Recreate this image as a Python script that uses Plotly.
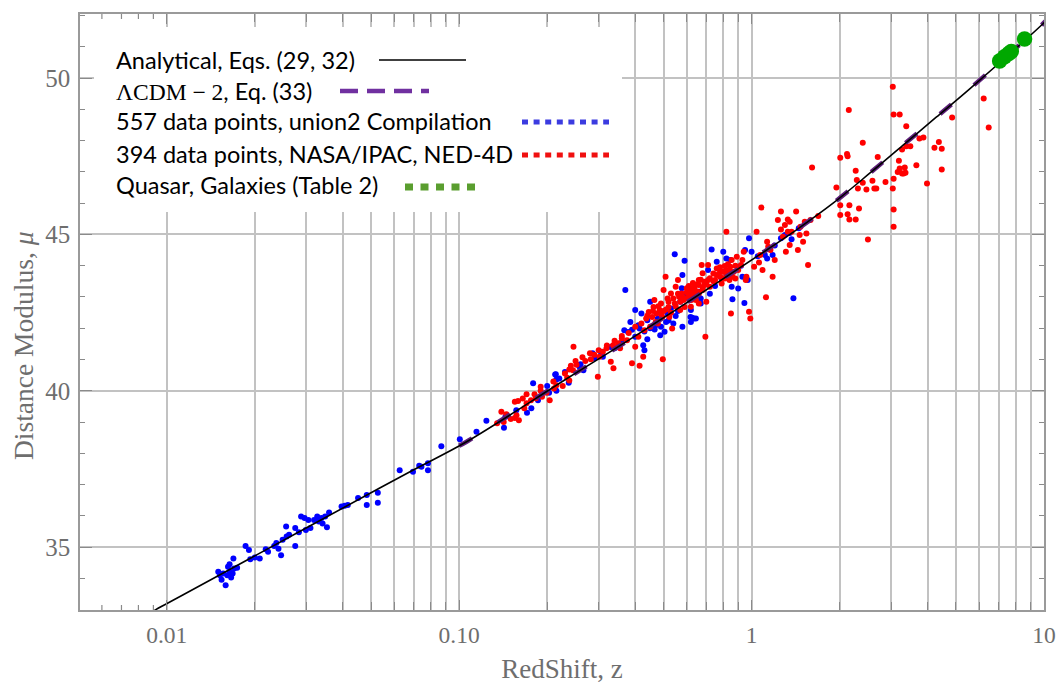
import math
import plotly.graph_objects as go

# ---------------- data ----------------
curve_z = [0.0080, 0.0092, 0.0111, 0.020, 0.0535, 0.0694, 0.106, 0.239, 0.38,
           1.125, 1.42, 1.90, 2.53, 3.29, 4.28, 5.56, 9.9, 10.2]
curve_mu = [32.69, 33.01, 33.42, 34.72, 36.89, 37.46, 38.37, 40.45, 41.62,
            44.50, 45.14, 46.00, 46.95, 47.85, 48.75, 49.65, 51.73, 51.85]

lcdm_z = [0.100, 0.106, 0.239, 0.38, 1.125, 1.42, 1.90, 2.53, 3.29, 4.28, 5.56, 9.9, 10.2]
lcdm_mu = [38.24, 38.37, 40.45, 41.62, 44.50, 45.14, 46.00, 46.95, 47.85, 48.75, 49.65, 51.73, 51.85]

blue_z = [0.0150, 0.0152, 0.0154, 0.0159, 0.0162, 0.0164, 0.0166, 0.0168, 0.0170, 0.0169,
          0.0174, 0.0161, 0.0156, 0.0164, 0.0186, 0.0191, 0.0193, 0.0200, 0.0208, 0.0218,
          0.0222, 0.0233, 0.0237, 0.0241, 0.0246, 0.0249, 0.0256, 0.0257, 0.0262, 0.0275,
          0.0275, 0.0283, 0.0288, 0.0296, 0.0299, 0.0305, 0.0310, 0.0319, 0.0327, 0.0331,
          0.0338, 0.0341, 0.0348, 0.0353, 0.0359, 0.0396, 0.0406, 0.0416, 0.0451, 0.0483,
          0.0483, 0.0527, 0.0527, 0.0626, 0.0695, 0.0743, 0.0782, 0.0782, 0.0869, 0.1005,
          0.1146, 0.0730, 0.1239, 0.1423, 0.1440, 0.1568, 0.1706, 0.1765, 0.1790, 0.1860,
          0.2030, 0.2130, 0.2150, 0.2370, 0.2150, 0.214, 0.220, 0.258, 0.266, 0.286,
          0.305, 0.310, 0.340, 0.367, 0.370, 0.378, 0.385, 0.400, 0.400, 0.414,
          0.426, 0.430, 0.420, 0.440, 0.450, 0.466, 0.478, 0.487, 0.504, 0.510,
          0.516, 0.530, 0.546, 0.550, 0.570, 0.577, 0.580, 0.590, 0.580, 0.600,
          0.620, 0.626, 0.645, 0.650, 0.670, 0.660, 0.618, 0.620, 0.635, 0.650,
          0.670, 0.710, 0.730, 0.760, 0.790, 0.800, 0.820, 0.845, 0.855, 0.860,
          0.900, 0.930, 0.945, 0.950, 0.970, 0.980, 1.000, 1.110, 1.130, 1.180,
          1.260, 1.300, 1.370, 1.390,
          0.39, 0.41, 0.43, 0.45, 0.47, 0.49, 0.52, 0.54, 0.56, 0.44,
          0.36, 0.33, 0.29, 0.26, 0.23, 0.20, 0.72, 0.75, 0.85, 0.92,
          1.05, 1.20, 1.35, 1.45]
blue_mu = [34.21, 34.10, 33.96, 33.78, 34.37, 34.21, 34.03, 34.16, 34.32, 34.64,
           34.34, 34.10, 34.16, 34.45, 35.04, 34.91, 34.61, 34.67, 34.64, 34.93,
           34.85, 35.04, 35.13, 34.95, 34.74, 35.24, 35.66, 35.34, 35.40, 35.61,
           35.04, 35.48, 35.98, 35.93, 35.55, 35.87, 35.61, 35.87, 35.98, 35.82,
           35.93, 35.76, 35.98, 35.64, 36.11, 36.30, 36.32, 36.35, 36.57, 36.67,
           36.35, 36.74, 36.42, 37.46, 37.41, 37.57, 37.68, 37.46, 38.23, 38.45,
           38.69, 37.60, 39.04, 38.82, 39.17, 39.38, 39.30, 39.44, 40.24, 39.70,
           39.94, 40.52, 40.36, 40.26, 40.00, 40.53, 40.39, 40.77, 40.66, 41.20,
           41.25, 41.09, 41.36, 41.94, 43.22, 41.88, 42.20, 42.58, 41.73, 41.99,
           41.46, 41.30, 42.47, 42.26, 42.85, 41.96, 42.31, 41.78, 41.89, 42.20,
           42.47, 42.63, 44.37, 42.39, 42.85, 43.28, 42.05, 44.16, 43.70, 43.06,
           42.58, 42.34, 42.31, 43.00, 42.95, 43.17, 42.36, 42.20, 42.31, 42.95,
           42.79, 43.86, 44.52, 44.13, 43.59, 44.45, 44.23, 44.18, 43.33, 42.93,
           43.27, 43.65, 42.81, 44.50, 43.54, 44.88, 44.45, 44.34, 44.23, 44.34,
           44.88, 44.98, 44.85, 42.96,
           41.95, 42.10, 41.90, 42.00, 42.10, 42.05, 42.25, 42.15, 42.55, 41.65,
           41.55, 41.40, 41.05, 40.85, 40.60, 40.15, 43.10, 43.35, 43.75, 44.00,
           44.30, 44.65, 45.05, 45.20]

red_z = [0.1394, 0.1348, 0.142, 0.150, 0.157, 0.160, 0.159, 0.167, 0.170, 0.176,
         0.181, 0.183, 0.190, 0.192, 0.199, 0.204, 0.211, 0.215, 0.226, 0.234,
         0.238, 0.238, 0.155, 0.155,
         0.246, 0.264, 0.241, 0.245, 0.252, 0.282, 0.290, 0.298, 0.302, 0.310,
         0.319, 0.330, 0.336, 0.350, 0.355, 0.337, 0.360, 0.375, 0.390, 0.414,
         0.400, 0.410, 0.426, 0.430, 0.436, 0.445, 0.450, 0.457, 0.462, 0.465,
         0.472, 0.478, 0.485, 0.490, 0.495, 0.497, 0.500, 0.508, 0.516, 0.520,
         0.523, 0.535, 0.530, 0.546, 0.550, 0.560, 0.565, 0.570, 0.577, 0.585,
         0.590, 0.600, 0.607, 0.614, 0.622, 0.630, 0.637, 0.645, 0.654, 0.660,
         0.675, 0.680, 0.690, 0.695, 0.700,
         0.618, 0.630, 0.620, 0.635, 0.660, 0.660, 0.680, 0.690, 0.710, 0.710,
         0.720, 0.740, 0.750, 0.760, 0.780, 0.790, 0.800, 0.810, 0.810, 0.820,
         0.820, 0.830, 0.840, 0.845, 0.850, 0.855, 0.870, 0.880, 0.890, 0.900,
         0.920, 0.930, 0.940, 0.955, 0.960, 0.980, 0.990, 1.020, 1.040, 1.060,
         1.070, 1.090, 1.120, 1.130, 1.140, 1.160, 1.180, 1.080, 1.200, 1.230,
         1.260, 1.260, 1.280, 1.300, 1.310, 1.330, 1.330, 1.350, 1.350, 1.370,
         1.420, 1.440, 1.460, 1.470, 1.500, 1.520, 1.540, 1.560, 1.590,
         3.04, 3.06, 3.21, 3.38, 2.15, 2.40, 2.01, 2.13, 2.12, 2.70,
         2.27, 2.29, 2.40, 2.31, 2.47, 2.59, 2.63, 2.67, 2.87, 3.06,
         3.04, 3.19, 3.16, 3.21, 3.27, 3.34, 3.31, 3.36, 3.27, 3.38,
         3.49, 3.75, 3.87, 3.66, 3.98, 4.22, 4.37, 4.47, 4.47, 4.85,
         1.61, 1.95, 2.01, 2.16, 2.33, 2.01, 2.13, 2.16, 2.27, 3.06,
         3.06, 2.50, 1.69, 6.22, 6.47,
         0.44, 0.46, 0.48, 0.50, 0.52, 0.54, 0.56, 0.58, 0.60, 0.62,
         0.64, 0.66, 0.68, 0.47, 0.49, 0.51, 0.53, 0.55, 0.57, 0.59,
         0.61, 0.63, 0.65, 0.67, 0.70, 0.72, 0.74, 0.76, 0.78, 0.80,
         0.82, 0.84, 0.86, 0.78, 0.83, 0.88, 0.40, 0.42, 0.38, 0.36,
         0.34, 0.32, 0.30, 0.28, 0.27, 0.25, 0.23, 0.21, 0.19, 0.17,
         0.165, 0.145]
red_mu = [39.33, 38.96, 39.00, 39.10, 39.22, 39.06, 39.67, 39.44, 39.89, 39.70,
          39.89, 39.76, 40.13, 39.81, 39.94, 39.70, 40.07, 40.18, 40.15, 40.42,
          40.68, 40.33, 39.65, 39.13,
          41.41, 41.07, 40.80, 40.66, 40.83, 41.01, 41.15, 40.45, 41.09, 41.25,
          41.36, 40.93, 41.46, 41.52, 41.36, 40.72, 41.68, 41.62, 40.88, 40.80,
          41.41, 41.73, 41.09, 41.94, 42.31, 42.52, 42.05, 42.36, 42.68, 42.90,
          42.47, 42.15, 42.58, 42.79, 42.36, 41.01, 43.22, 43.65, 42.95, 42.68,
          42.36, 41.99, 43.11, 42.79, 43.33, 43.54, 43.01, 42.58, 43.11, 42.90,
          42.68, 43.28, 43.01, 43.22, 42.90, 43.11, 43.28, 42.90, 43.17, 43.38,
          44.02, 43.76, 43.49, 41.73, 42.85,
          43.22, 43.01, 42.69, 43.33, 43.54, 42.79, 43.22, 43.38, 43.54, 44.02,
          43.33, 43.75, 43.54, 43.91, 43.65, 43.43, 43.81, 43.99, 43.59, 45.09,
          43.86, 43.70, 43.54, 43.97, 42.47, 44.18, 43.81, 43.59, 44.29, 43.86,
          44.02, 44.18, 44.45, 43.54, 43.65, 42.53, 42.31, 43.97, 45.09, 44.10,
          44.34, 43.86, 42.99, 44.77, 44.61, 44.50, 43.65, 45.86, 44.18, 45.46,
          45.16, 45.73, 44.93, 45.30, 44.45, 45.48, 45.09, 44.66, 45.41, 45.09,
          45.73, 44.50, 44.98, 45.25, 44.77, 45.41, 45.03, 44.02, 45.46,
          49.72, 48.84, 48.84, 48.46, 48.98, 47.93, 47.45, 47.50, 47.57, 47.48,
          47.04, 46.74, 46.65, 46.47, 46.44, 46.72, 46.47, 46.47, 46.68, 46.78,
          46.47, 47.36, 47.00, 47.11, 46.95, 47.14, 46.95, 46.97, 47.72, 47.82,
          47.82, 48.07, 48.10, 47.21, 46.63, 47.77, 47.96, 47.74, 47.08, 48.74,
          47.14, 46.50, 45.93, 45.93, 45.83, 45.62, 45.65, 45.48, 45.48, 45.80,
          45.25, 44.84, 45.59, 49.35, 48.42,
          42.40, 42.55, 42.70, 42.55, 42.85, 42.95, 43.10, 43.00, 43.15, 43.05,
          43.20, 43.10, 43.30, 42.20, 42.45, 42.60, 42.50, 42.70, 42.85, 42.95,
          43.35, 43.45, 43.40, 43.55, 43.45, 43.60, 43.50, 43.70, 43.80, 43.60,
          43.75, 43.85, 43.65, 43.95, 44.05, 44.00, 42.05, 42.15, 41.85, 41.75,
          41.60, 41.45, 41.30, 41.20, 40.95, 40.95, 40.55, 40.30, 40.00, 39.60,
          39.75, 39.25]

green_z = [7.05, 7.33, 7.58, 7.73, 8.58]
green_mu = [50.55, 50.68, 50.79, 50.85, 51.25]

x_major = [0.01, 0.1, 1, 10]
x_major_text = ["0.01", "0.10", "1", "10"]
x_minor_grid = [m * d for d in (0.01, 0.1, 1) for m in range(2, 10)]
x_minor_small = [0.006, 0.007, 0.008, 0.009]
y_major = [35, 40, 45, 50]

legend_labels = [
    "Analytical, Eqs. (29, 32)",
    "<span style='font-family:Liberation Serif'>ΛCDM − 2</span>, Eq. (33)",
    "557 data points, union2 Compilation",
    "394 data points, NASA/IPAC, NED-4D",
    "Quasar, Galaxies (Table 2)",
]

# ---------------- figure ----------------
W, H = 1057, 684
ML, MR, MT, MB = 80, 13, 14, 74
PW, PH = W - ML - MR, H - MT - MB

def px(x):
    return (x - ML) / PW

def py(y):
    return (H - MB - y) / PH

fig = go.Figure()
fig.add_trace(go.Scatter(x=blue_z, y=blue_mu, mode="markers",
                         marker=dict(color="#0000ff", size=6, line=dict(width=0)),
                         showlegend=False, hoverinfo="skip"))
fig.add_trace(go.Scatter(x=red_z, y=red_mu, mode="markers",
                         marker=dict(color="#ff0000", size=6, line=dict(width=0)),
                         showlegend=False, hoverinfo="skip"))
fig.add_trace(go.Scatter(x=lcdm_z, y=lcdm_mu, mode="lines",
                         line=dict(color="#5e1f7a", width=4.5, dash="15px,30px", shape="spline"),
                         showlegend=False, hoverinfo="skip"))
fig.add_trace(go.Scatter(x=curve_z, y=curve_mu, mode="lines",
                         line=dict(color="#000000", width=1.6, shape="spline"),
                         showlegend=False, hoverinfo="skip"))
fig.add_trace(go.Scatter(x=green_z, y=green_mu, mode="markers",
                         marker=dict(color="#00a800", size=15.5, line=dict(width=0)),
                         showlegend=False, hoverinfo="skip"))

grid_col = "#c2c2c2"
tick_col = "#8a8a8a"
xr = [math.log10(0.00505), 1.0]

fig.update_layout(
    width=W, height=H,
    margin=dict(l=ML, r=MR, t=MT, b=MB, autoexpand=False),
    paper_bgcolor="white", plot_bgcolor="white",
    showlegend=False,
    xaxis=dict(type="log", range=xr, tickmode="array", tickvals=x_major, ticktext=x_major_text,
               ticks="inside", ticklen=10, tickwidth=1.2, tickcolor=tick_col,
               showgrid=True, gridcolor=grid_col, gridwidth=1.7, zeroline=False,
               minor=dict(tickmode="array", tickvals=x_minor_grid, ticks="inside", ticklen=8,
                          tickwidth=1.2, tickcolor=tick_col, showgrid=True,
                          gridcolor=grid_col, gridwidth=1.7),
               showline=True, linecolor="#9a9a9a", linewidth=1.5, mirror="ticks",
               tickfont=dict(family="Liberation Serif", size=23.5, color="#6e6e6e"),
               ticklabelstandoff=3, automargin=False,
               title=dict(text="RedShift, z", font=dict(family="Liberation Serif", size=27, color="#6e6e6e"),
                          standoff=14)),
    yaxis=dict(range=[32.99, 52.05], tickmode="array", tickvals=y_major,
               ticks="inside", ticklen=12, tickwidth=1.2, tickcolor=tick_col,
               showgrid=True, gridcolor=grid_col, gridwidth=1.7, zeroline=False,
               minor=dict(dtick=1, ticks="inside", ticklen=5, tickwidth=1.2,
                          tickcolor=tick_col, showgrid=False),
               showline=True, linecolor="#9a9a9a", linewidth=1.5, mirror="ticks",
               tickfont=dict(family="Liberation Serif", size=25, color="#6e6e6e"),
               ticklabelstandoff=3, automargin=False),
)

# y-axis title
fig.add_annotation(text="Distance Modulus, <i>μ</i>", xref="paper", yref="paper",
                   x=px(23), y=py(346), textangle=-90, showarrow=False,
                   xanchor="center", yanchor="middle",
                   font=dict(family="Liberation Serif", size=27.5, color="#6e6e6e"))

# small ticks below 0.01 (bottom and top)
for v in x_minor_small:
    for (a, b) in ((0.0, 5.0 / PH), (1.0 - 5.0 / PH, 1.0)):
        fig.add_shape(type="line", xref="x", yref="y domain", x0=v, x1=v, y0=a, y1=b,
                      line=dict(color=tick_col, width=1.2), layer="above")

# legend background box (covers grid lines, keeps frame ticks visible)
fig.add_shape(type="rect", xref="paper", yref="paper",
              x0=px(94), x1=px(622), y0=py(212), y1=py(27),
              fillcolor="white", line=dict(width=0), layer="above")

rows_y = [60, 90.5, 121, 154, 185]
for lab, yy in zip(legend_labels, rows_y):
    fig.add_annotation(text=lab, xref="paper", yref="paper", x=px(114), y=py(yy),
                       xanchor="left", yanchor="middle", showarrow=False,
                       font=dict(family="Lato", size=23.5, color="#000000"))

samples = [
    (379, 466, 60, "#000000", 1.6, "solid"),
    (340, 429, 91, "#7030a0", 4.5, "18px,9px"),
    (522, 609, 122, "#3b3be0", 5, "6px,5.6px"),
    (522, 609, 155, "#f01010", 5, "6px,5.6px"),
    (405, 482, 187, "#5a9e2f", 7, "8px,7.5px"),
]
for x0, x1, yy, col, wdt, dsh in samples:
    fig.add_shape(type="line", xref="paper", yref="paper",
                  x0=px(x0), x1=px(x1), y0=py(yy), y1=py(yy),
                  line=dict(color=col, width=wdt, dash=dsh), layer="above")

fig.write_html("out.html", config={"displayModeBar": False},
               post_script="document.body.style.margin='0px';document.body.style.padding='0px';document.body.style.overflow='hidden';")
